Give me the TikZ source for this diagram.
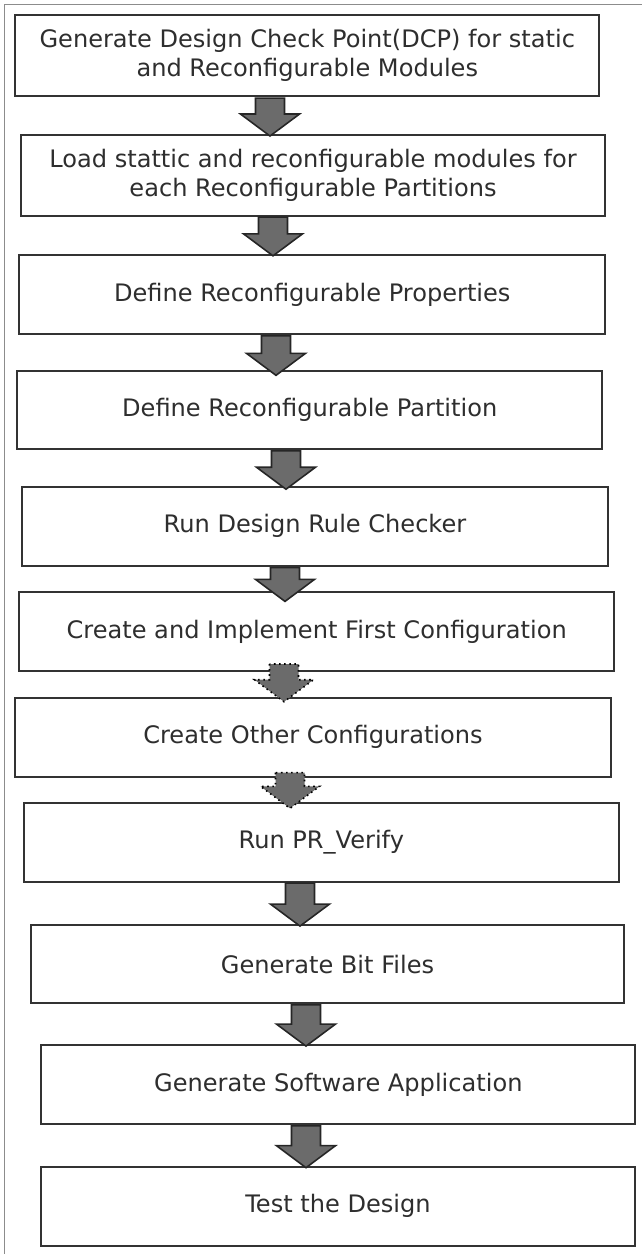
\documentclass[tikz,border=0pt]{standalone}
\usepackage{fontspec}
\setmainfont{DejaVu Sans}
\usetikzlibrary{positioning,calc}

\tikzset{
  stepbox/.style={draw=black!80, line width=1.1pt, fill=white, align=center,
    inner sep=0pt, text=black!82, font=\fontsize{13.7}{16.8}\selectfont},
  blockarr/.style={draw=black!85, line width=0.9pt, fill=black!58, line join=miter},
}
% block arrow: #2 from node, #3 to node, #4 x position, #5 shaft top drop, #6 tip depth
\newcommand{\blockarrow}[6][]{%
  \draw[blockarr,#1] let \p1=(#2.south), \p2=(#3.north) in
    ({#4-0.29cm},{\y1-(#5)}) -- ({#4-0.29cm},{\y2+0.44cm-(#6)})
    -- ({#4-0.59cm},{\y2+0.44cm-(#6)}) -- (#4,{\y2-(#6)})
    -- ({#4+0.59cm},{\y2+0.44cm-(#6)}) -- ({#4+0.29cm},{\y2+0.44cm-(#6)})
    -- ({#4+0.29cm},{\y1-(#5)}) -- cycle;}

\begin{document}
\begin{tikzpicture}
\useasboundingbox (0,0) rectangle (12.84,-25.08);
% frame
\draw[black!45, line width=0.6pt] (0.094,-25.08) -- (0.094,-0.094) -- (12.84,-0.094);
% steps
\node[stepbox, minimum width=11.68cm,  minimum height=1.614cm] (dcp)    at (6.146,-1.107) {Generate Design Check Point(DCP) for static\\and Reconfigurable Modules};
\node[stepbox, minimum width=11.668cm, minimum height=1.614cm] (load)   at (6.26,-3.507)  {Load stattic and reconfigurable modules for\\each Reconfigurable Partitions};
\node[stepbox, minimum width=11.72cm,  minimum height=1.58cm]  (props)  at (6.246,-5.896) {Define Reconfigurable Properties};
\node[stepbox, minimum width=11.694cm, minimum height=1.56cm]  (part)   at (6.194,-8.206) {Define Reconfigurable Partition};
\node[stepbox, minimum width=11.72cm,  minimum height=1.58cm]  (drc)    at (6.30,-10.524) {Run Design Rule Checker};
\node[stepbox, minimum width=11.894cm, minimum height=1.574cm] (first)  at (6.334,-12.634) {Create and Implement First Configuration};
\node[stepbox, minimum width=11.908cm, minimum height=1.58cm]  (other)  at (6.26,-14.744) {Create Other Configurations};
\node[stepbox, minimum width=11.894cm, minimum height=1.568cm] (verify) at (6.426,-16.85) {Run PR\_Verify};
\node[stepbox, minimum width=11.872cm, minimum height=1.566cm] (bits)   at (6.55,-19.284) {Generate Bit Files};
\node[stepbox, minimum width=11.88cm,  minimum height=1.586cm] (soft)   at (6.766,-21.694) {Generate Software Application};
\node[stepbox, minimum width=11.868cm, minimum height=1.586cm] (test)   at (6.76,-24.126) {Test the Design};
% arrows
\blockarrow{dcp}{load}{5.40cm}{0.03cm}{0.04cm}
\blockarrow{load}{props}{5.46cm}{0.01cm}{0.03cm}
\blockarrow{props}{part}{5.52cm}{0.01cm}{0.10cm}
\blockarrow{part}{drc}{5.72cm}{0.01cm}{0.07cm}
\blockarrow{drc}{first}{5.70cm}{0.02cm}{0.20cm}
\blockarrow[dotted, draw=black]{first}{other}{5.68cm}{-0.16cm}{0.10cm}
\blockarrow[dotted, draw=black]{other}{verify}{5.80cm}{-0.10cm}{0.12cm}
\blockarrow{verify}{bits}{6.00cm}{0.01cm}{0.04cm}
\blockarrow{bits}{soft}{6.12cm}{0.01cm}{0.04cm}
\blockarrow{soft}{test}{6.12cm}{0.01cm}{0.04cm}
\end{tikzpicture}
\end{document}
